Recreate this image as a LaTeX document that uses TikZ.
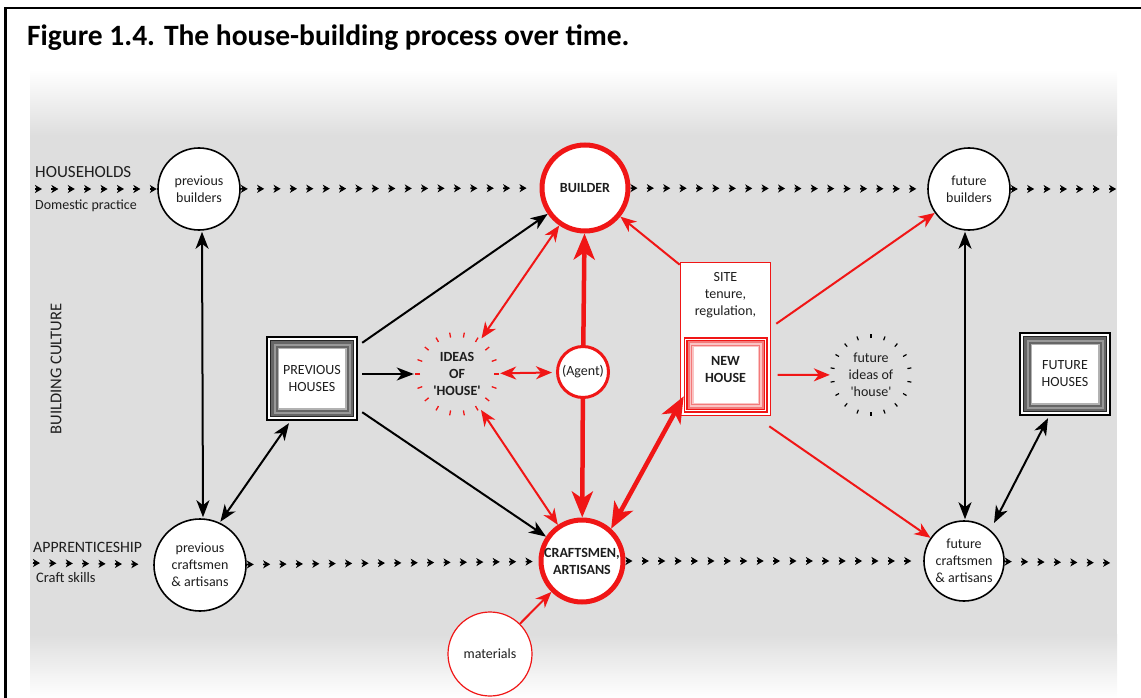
\documentclass[tikz,border=0pt]{standalone}
\usepackage{fontspec}
\setmainfont{Carlito}
\usetikzlibrary{arrows.meta,decorations.markings}
\definecolor{bg}{HTML}{DEDEDE}
\definecolor{tx}{HTML}{1E1E1E}
\definecolor{rd}{HTML}{F01616}
\definecolor{pk}{HTML}{F37A7A}
\definecolor{lpk}{HTML}{FAC4C4}
\newcommand\hframe[4]{%
  \draw[line width=1.3pt, fill=white] (#1,#2) rectangle (#3,#4);
  \fill[black!85] (#1+2.8,#2+2.8) rectangle (#3-2.8,#4-2.8);
  \fill[black!60] (#1+4,#2+4) rectangle (#3-4,#4-4);
  \fill[black!40] (#1+6.5,#2+6.5) rectangle (#3-6.5,#4-6.5);
  \fill[black!60] (#1+8.5,#2+8.5) rectangle (#3-8.5,#4-8.5);
  \fill[black!30] (#1+10.5,#2+10.5) rectangle (#3-10.5,#4-10.5);
  \fill[white] (#1+12,#2+12) rectangle (#3-12,#4-12);
}
\newcommand\rframe[4]{%
  \fill[rd] (#1,#2) rectangle (#3,#4);
  \fill[white] (#1+1.5,#2+1.5) rectangle (#3-1.5,#4-1.5);
  \fill[rd] (#1+2.5,#2+2.5) rectangle (#3-2.5,#4-2.5);
  \fill[pk] (#1+4,#2+4) rectangle (#3-4,#4-4);
  \fill[lpk] (#1+6,#2+6) rectangle (#3-6,#4-6);
  \fill[pk] (#1+7.5,#2+7.5) rectangle (#3-7.5,#4-7.5);
  \fill[lpk] (#1+8.5,#2+8.5) rectangle (#3-8.5,#4-8.5);
  \fill[white] (#1+10,#2+10) rectangle (#3-10,#4-10);
}
\begin{document}
\begin{tikzpicture}[x=1pt,y=-1pt,
  every node/.style={text=tx},
  nf/.style={font=\fontsize{14}{17}\selectfont},
  bnf/.style={font=\bfseries\fontsize{14}{17}\selectfont},
  bc/.style={circle, draw=black, line width=1.6pt, fill=white, align=center, inner sep=0pt, nf},
  rc/.style={circle, draw=rd, line width=5pt, fill=white, align=center, inner sep=0pt, bnf},
  dchain/.style={postaction={decorate}, decoration={markings,
     mark=between positions 7pt and 1 step 16.4pt with {\draw[black, line width=1.6pt, -{Stealth[length=7pt,width=8pt,inset=2pt]}] (-7pt,0pt) -- (0pt,0pt);}}},
  bk/.style={draw=black, line width=2pt},
  bt/.style={bk, -{Stealth[length=17pt,width=13pt,inset=5pt]}},
  bdt/.style={bk, {Stealth[length=17pt,width=13pt,inset=5pt]}-{Stealth[length=17pt,width=13pt,inset=5pt]}},
  rt/.style={draw=rd, line width=2pt, -{Stealth[length=16pt,width=13pt,inset=5pt]}},
  rdt/.style={draw=rd, line width=2pt, {Stealth[length=16pt,width=13pt,inset=5pt]}-{Stealth[length=16pt,width=13pt,inset=5pt]}},
  Rt/.style={draw=rd, line width=4.5pt, -{Stealth[length=26pt,width=21pt,inset=7pt]}},
  Rdt/.style={draw=rd, line width=4.5pt, {Stealth[length=26pt,width=21pt,inset=7pt]}-{Stealth[length=26pt,width=21pt,inset=7pt]}},
]
\useasboundingbox (0,0) rectangle (1141,698);
% background
\fill[bg] (30,135) rectangle (1117,635);
\shade[top color=white, bottom color=bg] (30,70) rectangle (1117,135.5);
\shade[top color=bg, bottom color=white] (30,634.5) rectangle (1117,698);
% frame
\draw[line width=2.4pt] (5.5,698) -- (5.5,8) -- (1141,8);
% title
\node[anchor=base west, text=black, font=\bfseries\fontsize{29.5}{34}\selectfont, inner sep=0] (title) at (27,46) {Figure 1.4. The house-building process over time.};
% side labels
\node[anchor=base west, inner sep=0, font=\fontsize{17}{20}\selectfont] (hh) at (35,177.5) {HOUSEHOLDS};
\node[anchor=base west, inner sep=0, font=\fontsize{14}{17}\selectfont] (dp) at (35,209) {Domestic practice};
\node[anchor=base west, inner sep=0, font=\fontsize{15.8}{19}\selectfont] (ap) at (33,552.5) {APPRENTICESHIP};
\node[anchor=base west, inner sep=0, font=\fontsize{14.5}{17}\selectfont] (cs) at (36,582) {Craft skills};
\node[rotate=90, inner sep=0, font=\fontsize{16.5}{19}\selectfont] (bcul) at (56,369) {BUILDING CULTURE};
% boxes
\hframe{267}{337}{357}{420}
\node[inner sep=0, minimum width=90pt, minimum height=83pt, align=center, nf] (prevh) at (312,378.5) {PREVIOUS\\HOUSES};
\hframe{1020}{333}{1110}{415}
\node[inner sep=0, minimum width=90pt, minimum height=82pt, align=center, nf] (fh) at (1065,374) {FUTURE\\HOUSES};
\node[draw=rd, line width=1.6pt, fill=white, inner sep=0, minimum width=90pt, minimum height=153pt] (site) at (725.5,339) {};
\node[align=center, nf, inner sep=0] (sitetxt) at (725.5,295) {SITE\\tenure,\\regulation,};
\rframe{683.5}{337}{767.5}{412.5}
\node[inner sep=0, minimum width=84pt, minimum height=75.5pt] (nh) at (725.5,374.75) {};
\node[align=center, bnf, inner sep=0] (nhtxt) at (725.5,370) {NEW\\HOUSE};
% circles
\node[bc, minimum size=82pt] (prevb) at (199,189) {previous\\builders};
\node[rc, minimum size=86pt] (builder) at (585,188) {BUILDER};
\node[bc, minimum size=82pt] (fb) at (969,189) {future\\builders};
\node[bc, minimum size=92pt] (prevc) at (200,565) {previous\\craftsmen\\\& artisans};
\node[rc, minimum size=82pt] (crafts) at (582,561) {CRAFTSMEN,\\ARTISANS};
\node[bc, minimum size=80pt] (fc) at (964,561) {future\\craftsmen\\\& artisans};
\node[circle, draw=rd, line width=1.2pt, fill=white, minimum size=84pt, inner sep=0, nf] (mat) at (490,654) {materials};
\node[circle, draw=rd, line width=3pt, fill=white, minimum size=51pt, inner sep=0, nf] (agent) at (583,372) {(Agent)};
% ideas
\node[circle, minimum size=86pt, inner sep=0, align=center, bnf] (ideas) at (457,374) {IDEAS\\OF\\\textquotesingle HOUSE\textquotesingle};
\foreach \a in {0,20,...,340} \draw[rd, line width=1.3pt] ([shift={(\a:37)}]ideas.center) -- ([shift={(\a:42)}]ideas.center);
\node[circle, minimum size=82pt, inner sep=0, align=center, nf] (fideas) at (871,375) {future\\ideas of\\\textquotesingle house\textquotesingle};
\foreach \a in {10,30,...,350} \draw[black, line width=1.2pt] ([shift={(\a:37)}]fideas.center) -- ([shift={(\a:41)}]fideas.center);
% dotted chains
\coordinate (hl) at (35,189);
\coordinate (hr) at (1117,189);
\coordinate (al) at (33,563);
\coordinate (ar) at (1117,563);
\path[dchain] (hl) -- (prevb);
\path[dchain] (prevb) -- (builder);
\path[dchain] (builder) -- (fb);
\path[dchain] (fb) -- (hr);
\path[dchain] (al) -- (prevc);
\path[dchain] (prevc) -- (crafts);
\path[dchain] (crafts) -- (fc);
\path[dchain] (fc) -- (ar);
% black connectors
\draw[bdt] ([shift={(3,1)}]prevb.south) -- ([shift={(3,-1)}]prevc.north);
\draw[bdt, shorten <=1pt] (prevc.65) -- ([shift={(-23,3)}]prevh.south);
\draw[bt] ([shift={(5,6)}]prevh.north east) -- (builder);
\draw[bt, shorten <=5pt] (prevh.east |- ideas.west) -- (ideas.west);
\draw[bt] ([shift={(5,-8)}]prevh.south east) -- (crafts);
\draw[bdt] ([shift={(-4,1)}]fb.south) -- ([shift={(1,-1)}]fc.north);
\draw[bdt] ([shift={(30,-38)}]fc.center) -- ([shift={(-17,3)}]fh.south);
% red connectors
\draw[rdt] (ideas) -- (builder);
\draw[rdt, shorten >=4pt] (ideas) -- (agent);
\draw[rdt] (ideas) -- (crafts);
\draw[Rt] (agent) -- (builder);
\draw[Rt] (agent) -- (crafts);
\draw[Rdt] (crafts.48) -- ([shift={(4,-20)}]site.south west);
\draw[rt] ([shift={(0,3)}]site.north west) -- (builder);
\draw[rt] ([shift={(5,62)}]site.north east) -- (fb);
\draw[rt] ([shift={(10,0)}]nh.east) -- (fideas);
\draw[rt] ([shift={(-2,10)}]site.south east) -- (fc);
\draw[rt] (mat) -- (crafts);
\end{tikzpicture}
\end{document}
